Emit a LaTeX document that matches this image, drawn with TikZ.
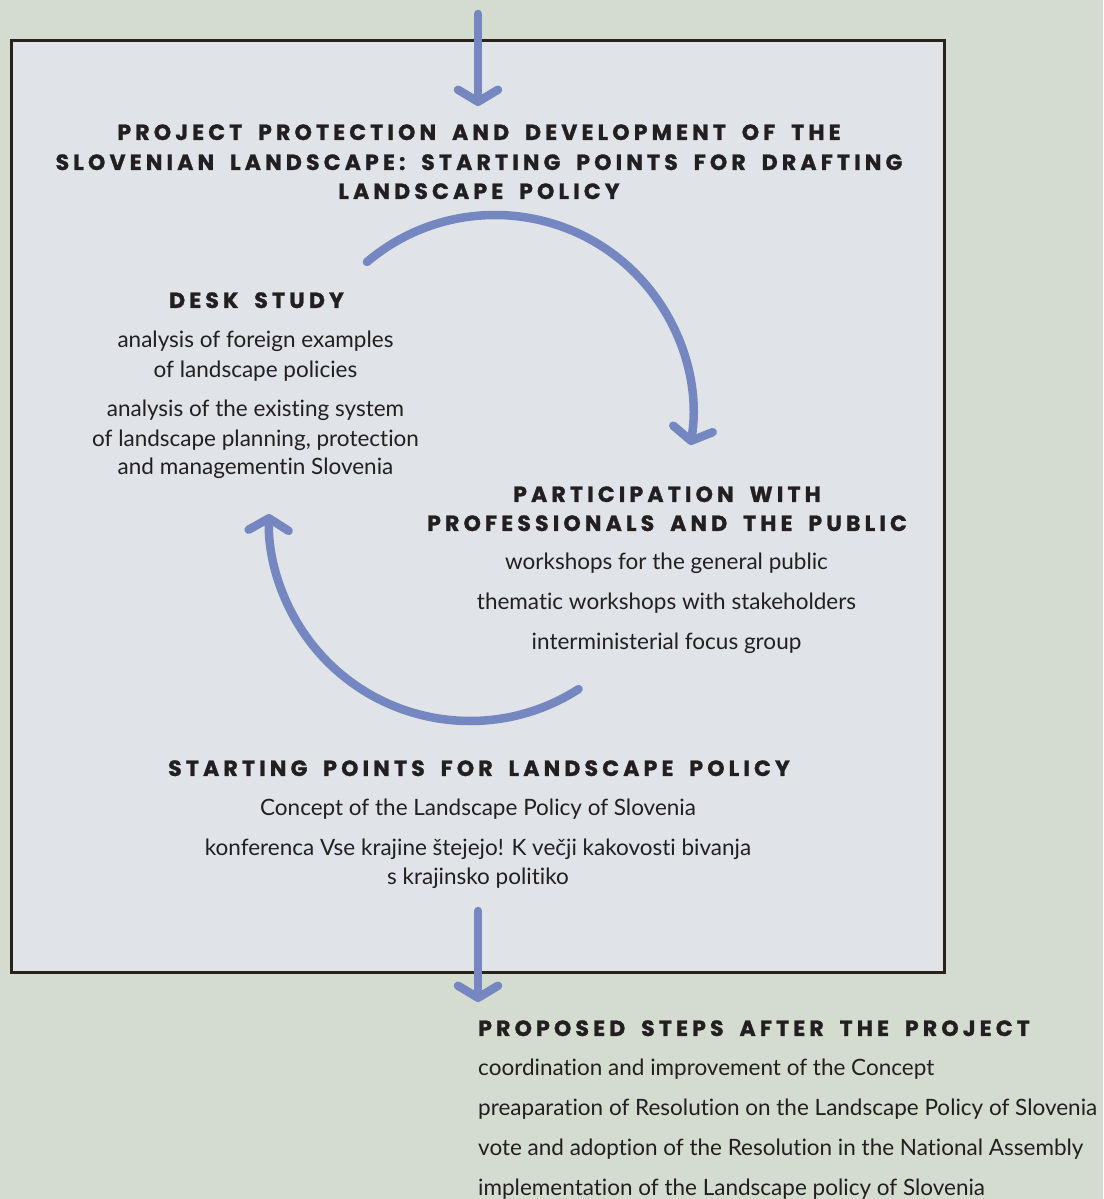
\documentclass[tikz,border=0pt]{standalone}
\usepackage{fontspec}
\usetikzlibrary{arrows.meta}
\newfontfamily\headfont{Poppins}[LetterSpace=19, WordSpace=1.8, FakeBold=1.2]
\newfontfamily\bodyfont{Lato}[Ligatures=NoCommon]
\definecolor{bgc}{HTML}{D4DCD0}
\definecolor{boxc}{HTML}{E0E4E8}
\definecolor{arrc}{HTML}{7587C1}
\definecolor{edgec}{HTML}{2A2118}
\definecolor{txtc}{HTML}{231F20}
\tikzset{
  head/.style={anchor=base, inner sep=0pt, text=txtc, font=\headfont\bfseries\fontsize{22}{26}\selectfont},
  body/.style={anchor=base, inner sep=0pt, text=txtc, font=\bodyfont\fontsize{22.5}{26}\selectfont},
  headl/.style={head, anchor=base west},
  bodyl/.style={body, anchor=base west},
  flow/.style={draw=arrc, line width=8.5pt, line cap=round,
    -{Straight Barb[length=12pt, width=40pt, round]}},
}
\begin{document}
\begin{tikzpicture}[x=1pt, y=1pt]
\useasboundingbox (0,0) rectangle (1103,1199);
\fill[bgc] (0,0) rectangle (1103,1199);
\draw[edgec, line width=3pt, fill=boxc] (11,1158.5) rectangle (944,226.5);

% arrows
\coordinate (topA) at (478,1185);
\coordinate (topB) at (478,1093);
\draw[flow] (topA) -- (topB);
\coordinate (botA) at (478,288);
\coordinate (botB) at (478,197);
\draw[flow] (botA) -- (botB);
\coordinate (c1) at (495,786);
\coordinate (c2) at (470,679);
\draw[flow] (c1) ++(130.3:198) arc[start angle=130.3, end angle=-9.3, radius=198];
\draw[flow] (c2) ++(-57.3:201) arc[start angle=-57.3, end angle=-181.7, radius=201];

% title
\node[head] (t1) at (479,1059) {PROJECT PROTECTION AND DEVELOPMENT OF THE};
\node[head] (t2) at (479,1029) {SLOVENIAN LANDSCAPE: STARTING POINTS FOR DRAFTING};
\node[head] (t3) at (479,1000) {LANDSCAPE POLICY};

% desk study
\node[head] (d0) at (256.5,891) {DESK STUDY};
\node[body] (d1) at (255.5,851) {analysis of foreign examples};
\node[body] (d2) at (255.5,821) {of landscape policies};
\node[body] (d3) at (255.5,782) {analysis of the existing system};
\node[body] (d4) at (255.5,752) {of landscape planning, protection};
\node[body] (d5) at (255.5,724) {and managementin Slovenia};

% participation
\node[head] (p0) at (667,697) {PARTICIPATION WITH};
\node[head] (p1) at (667,668) {PROFESSIONALS AND THE PUBLIC};
\node[body] (p2) at (666.5,629) {workshops for the general public};
\node[body] (p3) at (666.5,589) {thematic workshops with stakeholders};
\node[body] (p4) at (666.5,549) {interministerial focus group};

% starting points
\node[head] (s0) at (479,423) {STARTING POINTS FOR LANDSCAPE POLICY};
\node[body] (s1) at (478,383) {Concept of the Landscape Policy of Slovenia};
\node[body] (s2) at (478,343) {konferenca Vse krajine štejejo! K večji kakovosti bivanja};
\node[body] (s3) at (478,314) {s krajinsko politiko};

% proposed steps
\node[headl] (q0) at (478,163) {PROPOSED STEPS AFTER THE PROJECT};
\node[bodyl] (q1) at (478,123) {coordination and improvement of the Concept};
\node[bodyl] (q2) at (478,83) {preaparation of Resolution on the Landscape Policy of Slovenia};
\node[bodyl] (q3) at (478,43) {vote and adoption of the Resolution in the National Assembly};
\node[bodyl] (q4) at (478,4) {implementation of the Landscape policy of Slovenia};
\end{tikzpicture}
\end{document}
